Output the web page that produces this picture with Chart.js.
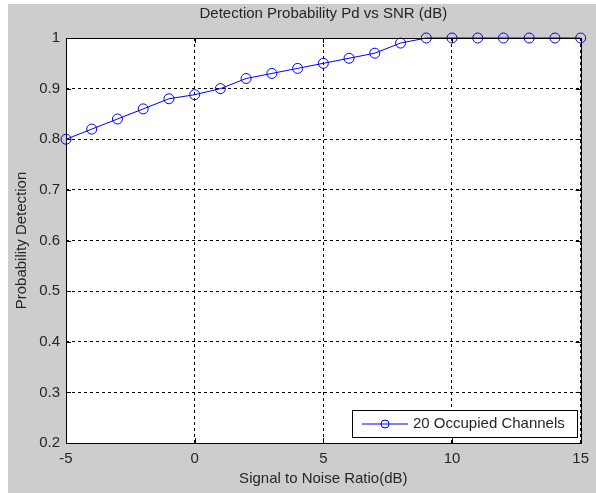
<!DOCTYPE html>
<html>
<head>
<meta charset="utf-8">
<script src="https://cdn.jsdelivr.net/npm/chart.js@4.4.1/dist/chart.umd.min.js"></script>
<style>
  html, body { margin: 0; padding: 0; background: #fff; }
  #wrap { width: 596px; height: 493px; }
</style>
</head>
<body>
<div id="wrap"><canvas id="pd-chart" width="596" height="493"></canvas></div>
<script>
// SNR values (dB) and detection probability
const snr = [-5, -4, -3, -2, -1, 0, 1, 2, 3, 4, 5, 6, 7, 8, 9, 10, 11, 12, 13, 14, 15];
const pd = [0.80, 0.82, 0.84, 0.86, 0.88, 0.888, 0.90, 0.92, 0.93, 0.94, 0.95, 0.96, 0.97, 0.99, 1, 1, 1, 1, 1, 1, 1];
const seriesLabel = "20 Occupied Channels";
const xTicks = [-5, 0, 5, 10, 15];
const yTicks = [0.2, 0.3, 0.4, 0.5, 0.6, 0.7, 0.8, 0.9, 1];

const textColor = "#262626";
const fontFam = "'Liberation Sans', Arial, sans-serif";
const fs = 15;

// grey figure background + white axes area + full box
const figureBg = {
    id: "figureBg",
    beforeDraw(chart) {
        const ctx = chart.ctx;
        const a = chart.chartArea;
        ctx.save();
        ctx.fillStyle = "#cdcdcd";
        ctx.fillRect(8, 4, chart.width - 8, chart.height - 4);
        ctx.fillStyle = "#fff";
        ctx.fillRect(a.left, a.top, a.right - a.left, a.bottom - a.top);
        ctx.restore();
    },
    afterDatasetsDraw(chart) {
        const ctx = chart.ctx;
        const a = chart.chartArea;
        const xs = chart.scales.x, ys = chart.scales.y;
        ctx.save();
        ctx.strokeStyle = "#000";
        ctx.lineWidth = 1;
        // small inner tick marks like matlab
        ctx.beginPath();
        xTicks.forEach(v => {
            const px = Math.round(xs.getPixelForValue(v)) + 0.5;
            ctx.moveTo(px, a.bottom); ctx.lineTo(px, a.bottom - 5);
            ctx.moveTo(px, a.top); ctx.lineTo(px, a.top + 5);
        });
        yTicks.forEach(v => {
            const py = Math.round(ys.getPixelForValue(v)) + 0.5;
            ctx.moveTo(a.left, py); ctx.lineTo(a.left + 5, py);
            ctx.moveTo(a.right, py); ctx.lineTo(a.right - 5, py);
        });
        ctx.stroke();
        ctx.strokeRect(Math.round(a.left) + 0.5, Math.round(a.top) + 0.5,
            Math.round(a.right - a.left), Math.round(a.bottom - a.top));
        ctx.restore();
    }
};

// legend box in lower right corner of the axes
const insideLegend = {
    id: "insideLegend",
    afterDraw(chart) {
        const ctx = chart.ctx;
        const ds = chart.data.datasets[0];
        const x0 = 352, y0 = 410, w = 225, h = 27;
        ctx.save();
        ctx.fillStyle = "#fff";
        ctx.fillRect(x0, y0, w, h);
        ctx.strokeStyle = "#000";
        ctx.lineWidth = 1;
        ctx.strokeRect(x0 + 0.5, y0 + 0.5, w, h);
        const cy = y0 + h / 2 + 0.5;
        ctx.strokeStyle = ds.borderColor;
        ctx.beginPath();
        ctx.moveTo(x0 + 10, cy);
        ctx.lineTo(x0 + 56, cy);
        ctx.stroke();
        ctx.beginPath();
        ctx.arc(x0 + 33, cy, 4, 0, Math.PI * 2);
        ctx.stroke();
        ctx.fillStyle = textColor;
        ctx.font = fs + "px " + fontFam;
        ctx.textBaseline = "middle";
        ctx.fillText(ds.label, x0 + 61, cy);
        ctx.restore();
    }
};

const ctxPd = document.querySelector("#pd-chart").getContext("2d");

const pdChart = new Chart(ctxPd, {
    type: "line",
    data: {
        datasets: [{
            label: seriesLabel,
            data: snr.map((s, i) => ({ x: s, y: pd[i] })),
            borderColor: "#0000ff",
            borderWidth: 1,
            backgroundColor: "rgba(0,0,0,0)",
            pointRadius: 5,
            pointBorderWidth: 1,
            pointBorderColor: "#0000ff",
            pointBackgroundColor: "rgba(0,0,0,0)",
            tension: 0,
            clip: false,
        }],
    },
    options: {
        responsive: false,
        animation: false,
        layout: { padding: { left: 0, right: 13, top: 0, bottom: 0 } },
        plugins: {
            legend: { display: false },
            tooltip: { enabled: false },
            title: {
                display: true,
                fullSize: false,
                text: "Detection Probability Pd vs SNR (dB)",
                color: textColor,
                font: { family: fontFam, size: fs, weight: "normal", lineHeight: 1.2 },
                padding: { top: 5, bottom: 15 },
            },
        },
        scales: {
            x: {
                type: "linear",
                min: -5,
                max: 15,
                afterBuildTicks(s) { s.ticks = xTicks.map(v => ({ value: v })); },
                afterFit(s) { s.height = 50; },
                ticks: {
                    color: textColor,
                    font: { family: fontFam, size: fs },
                    padding: 7,
                    maxRotation: 0,
                },
                grid: { color: "#000", drawTicks: false, lineWidth: 1 },
                border: { display: false, dash: [3, 3] },
                title: {
                    display: true,
                    text: "Signal to Noise Ratio(dB)",
                    color: textColor,
                    font: { family: fontFam, size: fs, lineHeight: 1.2 },
                    padding: { top: 0, bottom: 5 },
                },
            },
            y: {
                type: "linear",
                min: 0.2,
                max: 1,
                afterBuildTicks(s) { s.ticks = yTicks.map(v => ({ value: v })); },
                afterFit(s) { s.width = 66; },
                ticks: {
                    color: textColor,
                    font: { family: fontFam, size: fs },
                    padding: 6,
                    callback: v => (v === 1 ? "1" : v.toFixed(1)),
                },
                grid: { color: "#000", drawTicks: false, lineWidth: 1 },
                border: { display: false, dash: [3, 3] },
                title: {
                    display: true,
                    text: "Probability Detection",
                    color: textColor,
                    font: { family: fontFam, size: fs, lineHeight: 1.2 },
                    padding: { top: 13, bottom: 0 },
                },
            },
        },
    },
    plugins: [figureBg, insideLegend],
});
</script>
</body>
</html>
